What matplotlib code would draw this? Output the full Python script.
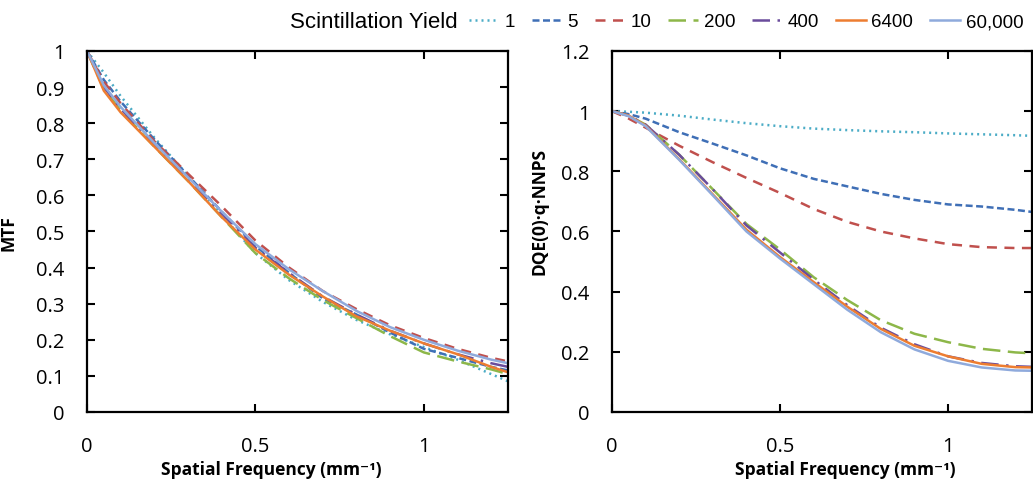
import matplotlib

matplotlib.use("Agg")
import matplotlib.pyplot as plt
from matplotlib.ticker import FuncFormatter

# spatial frequency samples (mm^-1)
freq = [0, 0.05, 0.1, 0.2, 0.3, 0.4, 0.5, 0.6, 0.7, 0.8, 0.9, 1.0, 1.1, 1.2, 1.25]

yield_labels = ["1", "5", "10", "200", "400", "6400", "60,000"]

# MTF per scintillation yield (left panel)
mtf_1 = [1.0, 0.94, 0.875, 0.76, 0.655, 0.545, 0.44, 0.365, 0.305, 0.255, 0.215, 0.18, 0.145, 0.105, 0.085]
mtf_5 = [1.0, 0.92, 0.86, 0.755, 0.655, 0.555, 0.46, 0.385, 0.315, 0.27, 0.22, 0.175, 0.15, 0.125, 0.115]
mtf_10 = [1.0, 0.915, 0.855, 0.75, 0.66, 0.57, 0.475, 0.40, 0.335, 0.285, 0.24, 0.205, 0.175, 0.15, 0.14]
mtf_200 = [1.0, 0.895, 0.835, 0.735, 0.64, 0.54, 0.44, 0.37, 0.31, 0.26, 0.21, 0.165, 0.14, 0.118, 0.105]
mtf_400 = [1.0, 0.90, 0.84, 0.74, 0.645, 0.55, 0.455, 0.385, 0.32, 0.27, 0.225, 0.19, 0.16, 0.135, 0.125]
mtf_6400 = [1.0, 0.89, 0.83, 0.735, 0.64, 0.54, 0.45, 0.38, 0.32, 0.265, 0.225, 0.19, 0.16, 0.125, 0.11]
mtf_60000 = [1.0, 0.905, 0.845, 0.745, 0.65, 0.555, 0.465, 0.395, 0.335, 0.28, 0.235, 0.2, 0.17, 0.145, 0.135]

# DQE(0)*q*NNPS per scintillation yield (right panel)
dqe_1 = [1.0, 0.998, 0.995, 0.985, 0.972, 0.96, 0.95, 0.942, 0.937, 0.933, 0.93, 0.926, 0.923, 0.92, 0.918]
dqe_5 = [1.0, 0.99, 0.975, 0.93, 0.892, 0.853, 0.81, 0.775, 0.75, 0.725, 0.705, 0.69, 0.683, 0.672, 0.665]
dqe_10 = [1.0, 0.975, 0.945, 0.885, 0.83, 0.778, 0.728, 0.675, 0.632, 0.60, 0.577, 0.558, 0.548, 0.545, 0.545]
dqe_200 = [1.0, 0.985, 0.955, 0.855, 0.74, 0.625, 0.54, 0.448, 0.372, 0.305, 0.26, 0.232, 0.21, 0.198, 0.195]
dqe_400 = [1.0, 0.985, 0.955, 0.855, 0.74, 0.62, 0.53, 0.44, 0.355, 0.28, 0.225, 0.185, 0.163, 0.152, 0.15]
dqe_6400 = [1.0, 0.985, 0.952, 0.84, 0.723, 0.606, 0.515, 0.432, 0.35, 0.276, 0.22, 0.185, 0.16, 0.149, 0.148]
dqe_60000 = [1.0, 0.983, 0.95, 0.838, 0.72, 0.60, 0.51, 0.425, 0.34, 0.265, 0.208, 0.17, 0.148, 0.138, 0.137]

mtf_series = [mtf_1, mtf_5, mtf_10, mtf_200, mtf_400, mtf_6400, mtf_60000]
dqe_series = [dqe_1, dqe_5, dqe_10, dqe_200, dqe_400, dqe_6400, dqe_60000]

colors = ["#4BACC6", "#3F6FB6", "#C0504D", "#8DB749", "#6A4C9C", "#ED7D31", "#8FAADC"]
styles = [
    (0, (0.8, 1.6)),
    (0, (2.8, 1.4)),
    (0, (4, 3)),
    (0, (7, 3)),
    (0, (7, 3, 1, 3)),
    "-",
    "-",
]

tick_font = ["Open Sans", "DejaVu Sans"]
fmt = FuncFormatter(lambda v, p: f"{v:g}")

fig = plt.figure(figsize=(10.33, 4.85), dpi=100)
ax1 = fig.add_axes([0.0842, 0.1485, 0.4076, 0.7443])
ax2 = fig.add_axes([0.5925, 0.1485, 0.4066, 0.7443])

lines = []
for ax, series in ((ax1, mtf_series), (ax2, dqe_series)):
    for vals, c, ls, lab in zip(series, colors, styles, yield_labels):
        (ln,) = ax.plot(freq, vals, color=c, linestyle=ls, lw=1.8, label=lab)
        if ax is ax1:
            lines.append(ln)
    ax.set_xlim(0, 1.25)
    ax.set_xticks([0, 0.5, 1])
    ax.xaxis.set_major_formatter(fmt)
    ax.yaxis.set_major_formatter(fmt)
    for s in ax.spines.values():
        s.set_linewidth(1.6)
    ax.tick_params(direction="in", length=6, width=1.5, top=True, right=True,
                   labelsize=14.5)
    ax.tick_params(axis="x", pad=17)
    ax.tick_params(axis="y", pad=16)
    ax.set_xlabel("Spatial Frequency (mm⁻¹)", fontsize=12.5, fontweight="bold",
                  family=tick_font)

ax1.set_ylim(0, 1)
ax1.set_yticks([i / 10 for i in range(11)])
ax2.set_ylim(0, 1.2)
ax2.set_yticks([0, 0.2, 0.4, 0.6, 0.8, 1.0, 1.2])
for ax in (ax1, ax2):
    for t in ax.get_xticklabels() + ax.get_yticklabels():
        t.set_family(tick_font)

ax1.xaxis.set_label_coords(0.437, -0.133)
ax2.xaxis.set_label_coords(0.555, -0.133)

ax1.set_ylabel("MTF", fontsize=12.5, fontweight="bold", family=tick_font)
ax2.set_ylabel("DQE(0)·q·NNPS", fontsize=12.5, fontweight="bold", family=tick_font)
ax1.yaxis.set_label_coords(-0.165, 0.499)
ax2.yaxis.set_label_coords(-0.152, 0.557)

fig.text(0.443, 0.953, "Scintillation Yield", ha="right", va="center",
         fontsize=16, family="Liberation Sans")
fig.legend(handles=lines, loc="center right", bbox_to_anchor=(0.998, 0.953), ncol=7,
           frameon=False, handlelength=1.6, handletextpad=0.3, columnspacing=0.9,
           borderaxespad=0, prop={"family": "Liberation Sans", "size": 13.5})

fig.savefig("out.png", dpi=100)
